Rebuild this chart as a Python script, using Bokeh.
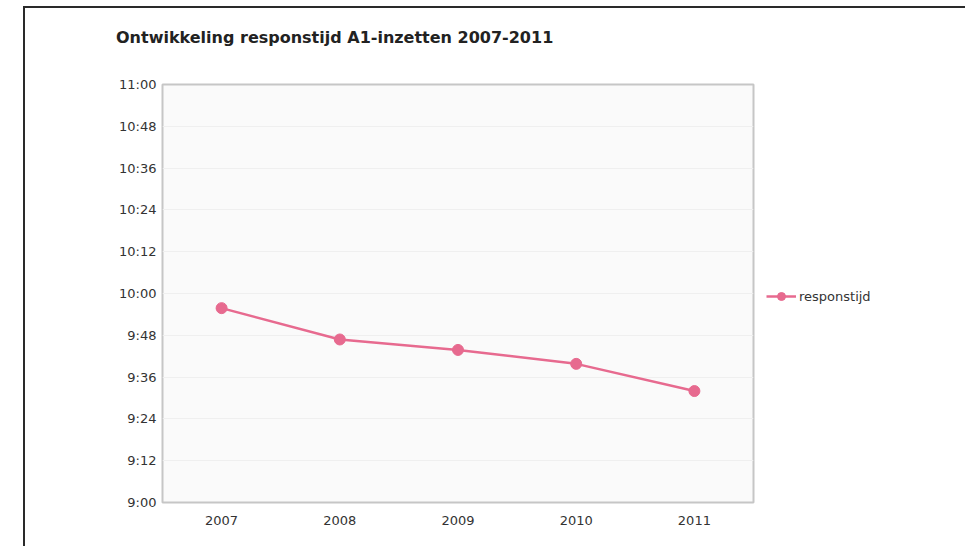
from bokeh.plotting import figure
from bokeh.layouts import column
from bokeh.models import FactorRange, FixedTicker, Legend, LegendItem, Div
from bokeh.embed import file_html
from bokeh.resources import INLINE

# Responstijd A1-inzetten per jaar (minuten na middernacht)
years = ["2007", "2008", "2009", "2010", "2011"]
response_minutes = [595.8, 586.8, 583.8, 579.8, 572.0]

# As-indeling: 9:00 tot 11:00 in stappen van 12 minuten
tick_minutes = [540, 552, 564, 576, 588, 600, 612, 624, 636, 648, 660]
tick_labels = ["9:00", "9:12", "9:24", "9:36", "9:48", "10:00",
               "10:12", "10:24", "10:36", "10:48", "11:00"]

title_text = "Ontwikkeling responstijd A1-inzetten 2007-2011"
series_name = "responstijd"

FONT = "DejaVu Sans"
PINK = "#e76a8f"

title_div = Div(text=title_text, width=940, height=60, margin=(0, 0, 0, 0),
                styles={"font-family": FONT, "font-size": "16px",
                        "font-weight": "bold", "color": "#222222",
                        "line-height": "20px", "padding-top": "20px",
                        "padding-left": "91px", "box-sizing": "border-box"})

p = figure(frame_width=591, frame_height=418,
           x_range=FactorRange(*years, range_padding=0),
           y_range=(540, 660), output_backend="svg", toolbar_location=None,
           min_border_left=137, min_border_right=212, min_border_top=16,
           min_border_bottom=44, margin=(0, 0, 0, 0))

p.background_fill_color = "#fafafa"
p.border_fill_color = "white"
p.outline_line_color = "#c6c6c6"
p.outline_line_width = 2

p.xgrid.grid_line_color = None
p.ygrid.grid_line_color = "#efefef"
p.ygrid.grid_line_width = 1

p.yaxis.ticker = FixedTicker(ticks=tick_minutes)
p.yaxis.major_label_overrides = dict(zip(tick_minutes, tick_labels))

for ax in (p.xaxis, p.yaxis):
    ax.axis_line_color = None
    ax.major_tick_line_color = None
    ax.minor_tick_line_color = None
    ax.major_tick_in = 0
    ax.major_tick_out = 0
    ax.major_label_text_font = FONT
    ax.major_label_text_font_size = "13px"
    ax.major_label_text_color = "#333333"
p.yaxis.major_label_standoff = 6
p.xaxis.major_label_standoff = 13

line_r = p.line(years, response_minutes, line_color=PINK, line_width=2.5)
dot_r = p.scatter(years, response_minutes, size=11, fill_color=PINK,
                  line_color=PINK, marker="circle")

legend = Legend(items=[LegendItem(label=series_name, renderers=[line_r, dot_r])],
                location=(13, 196), padding=0, margin=0, spacing=0,
                glyph_width=30, glyph_height=20, label_standoff=3,
                label_text_font=FONT, label_text_font_size="13px",
                label_text_color="#333333", background_fill_alpha=0,
                border_line_color=None)
p.add_layout(legend, "right")

# Page frame along the top and left edges
page = column(title_div, p, spacing=0, margin=(6, 0, 0, 23),
              styles={"border-top": "2px solid #2a2a2a",
                      "border-left": "2px solid #2a2a2a"})

open("out.html", "w").write(file_html(page, INLINE))
